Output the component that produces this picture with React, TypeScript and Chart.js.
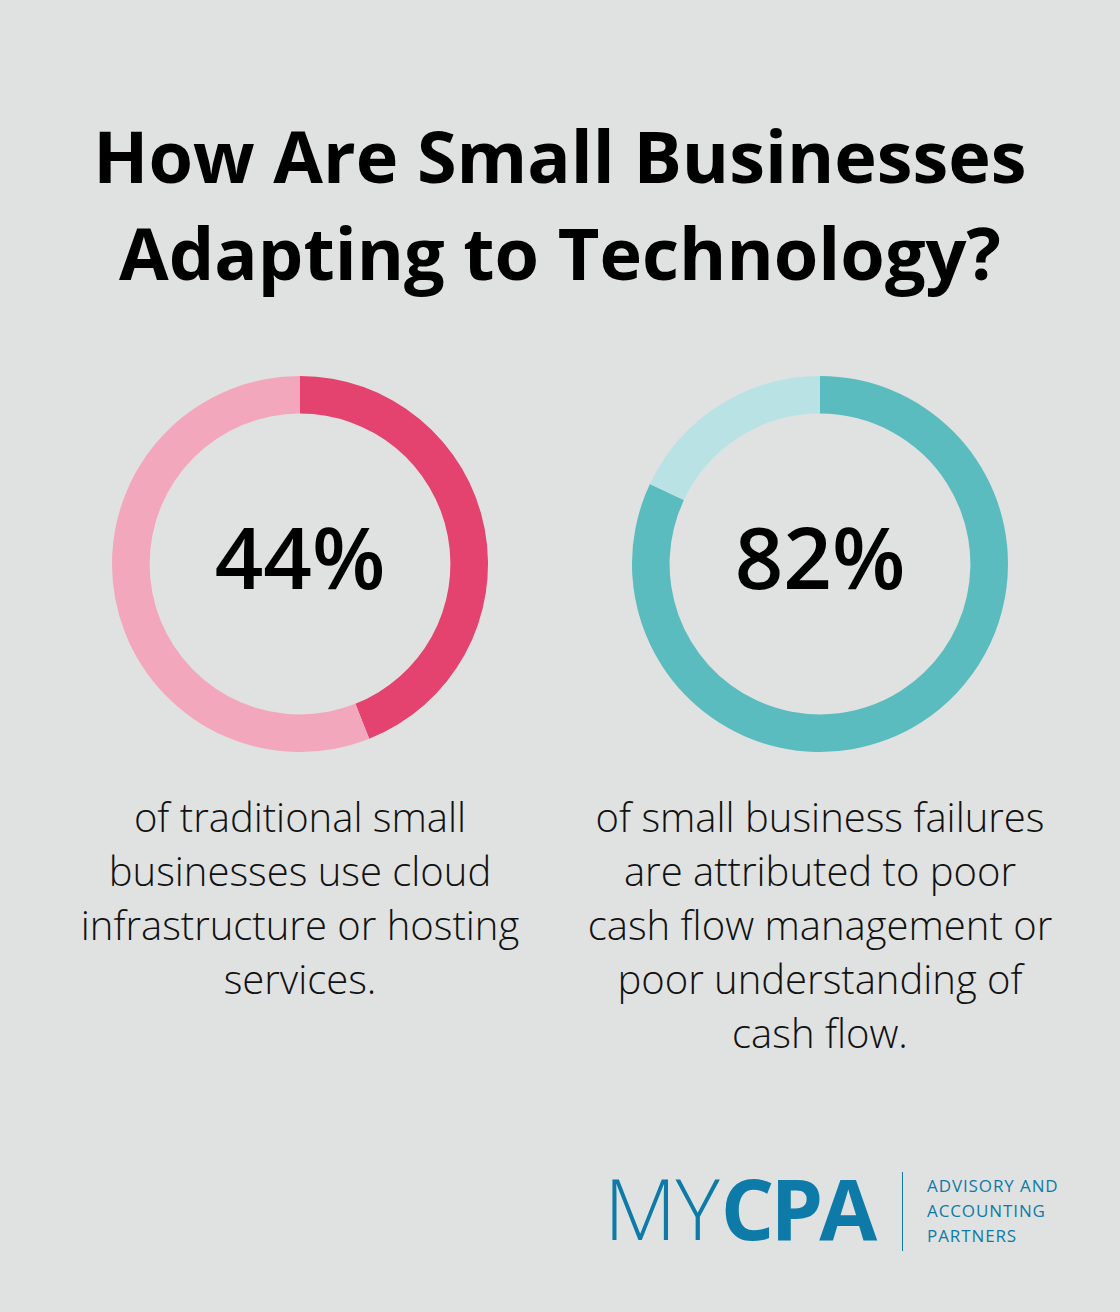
import React, { useEffect, useRef } from "react";
import { Chart, registerables } from "chart.js";

Chart.register(...registerables);

const titleLines = ["How Are Small Businesses", "Adapting to Technology?"];

const leftLabels = ["Use cloud infrastructure or hosting", "Other"];
const leftValues = [44, 56];
const leftColors = ["#e4436f", "#f3a7bd"];
const leftNumber = "44%";
const leftText = ["of traditional small", "businesses use cloud", "infrastructure or hosting", "services."];

const rightLabels = ["Failures due to poor cash flow", "Other"];
const rightValues = [82, 18];
const rightColors = ["#5bbcbf", "#b9e2e4"];
const rightNumber = "82%";
const rightText = ["of small business failures", "are attributed to poor", "cash flow management or", "poor understanding of", "cash flow."];

const logoThin = "MY";
const logoBold = "CPA";
const logoTagline = ["ADVISORY AND", "ACCOUNTING", "PARTNERS"];

const BG = "#e0e2e1";
const BLUE = "#0d7aa8";

function Donut({ labels, values, colors, left, top }: { labels: string[]; values: number[]; colors: string[]; left: number; top: number }) {
  const ref = useRef<HTMLCanvasElement | null>(null);
  useEffect(() => {
    if (!ref.current) return;
    const chart = new Chart(ref.current, {
      type: "doughnut",
      data: {
        labels,
        datasets: [{ data: values, backgroundColor: colors, borderWidth: 0, hoverOffset: 0 }],
      },
      options: {
        responsive: false,
        animation: false,
        cutout: "80%",
        layout: { padding: 0 },
        plugins: { legend: { display: false }, tooltip: { enabled: false } },
        events: [],
      },
    });
    return () => chart.destroy();
  }, []);
  return (
    <canvas
      ref={ref}
      width={376}
      height={376}
      style={{ position: "absolute", left, top, width: 376, height: 376 }}
    />
  );
}

export default function App() {
  useEffect(() => {
    document.body.style.margin = "0";
    document.body.style.background = BG;
  }, []);

  const descStyle: React.CSSProperties = {
    position: "absolute",
    top: 790,
    width: 520,
    textAlign: "center",
    fontFamily: "'Open Sans', sans-serif",
    fontWeight: 300,
    fontSize: 40,
    lineHeight: "54px",
    color: "#111",
    whiteSpace: "nowrap",
  };
  const numStyle: React.CSSProperties = {
    position: "absolute",
    top: 514,
    width: 376,
    textAlign: "center",
    fontFamily: "'Open Sans', sans-serif",
    fontWeight: 600,
    fontSize: 85,
    lineHeight: "85px",
    color: "#000",
  };

  return (
    <div style={{ position: "relative", width: 1120, height: 1312, background: BG, overflow: "hidden" }}>
      <div
        style={{
          position: "absolute",
          top: 107,
          left: 0,
          width: 1120,
          textAlign: "center",
          fontFamily: "'Open Sans', sans-serif",
          fontWeight: 700,
          fontSize: 72,
          lineHeight: "97px",
          color: "#000",
          whiteSpace: "nowrap",
        }}
      >
        {titleLines.map((l, i) => (
          <div key={i}>{l}</div>
        ))}
      </div>

      <Donut labels={leftLabels} values={leftValues} colors={leftColors} left={112} top={376} />
      <Donut labels={rightLabels} values={rightValues} colors={rightColors} left={632} top={376} />

      <div style={{ ...numStyle, left: 112 }}>{leftNumber}</div>
      <div style={{ ...numStyle, left: 632 }}>{rightNumber}</div>

      <div style={{ ...descStyle, left: 40 }}>
        {leftText.map((l, i) => (
          <div key={i}>{l}</div>
        ))}
      </div>
      <div style={{ ...descStyle, left: 560 }}>
        {rightText.map((l, i) => (
          <div key={i}>{l}</div>
        ))}
      </div>

      <div
        style={{
          position: "absolute",
          left: 604,
          top: 1158,
          height: 100,
          fontSize: 84,
          lineHeight: "100px",
          color: BLUE,
          whiteSpace: "nowrap",
          fontFamily: "'Open Sans', sans-serif",
        }}
      >
        <span style={{ fontWeight: 300, letterSpacing: -1 }}>{logoThin}</span>
        <span style={{ fontWeight: 700, letterSpacing: -4, marginLeft: 2 }}>{logoBold}</span>
      </div>
      <div style={{ position: "absolute", left: 902, top: 1172, width: 1, height: 79, background: BLUE }} />
      <div
        style={{
          position: "absolute",
          left: 927,
          top: 1173,
          fontFamily: "'Open Sans', sans-serif",
          fontWeight: 500,
          fontSize: 17,
          lineHeight: "25px",
          letterSpacing: 0.9,
          color: BLUE,
          whiteSpace: "nowrap",
        }}
      >
        {logoTagline.map((l, i) => (
          <div key={i}>{l}</div>
        ))}
      </div>
    </div>
  );
}
